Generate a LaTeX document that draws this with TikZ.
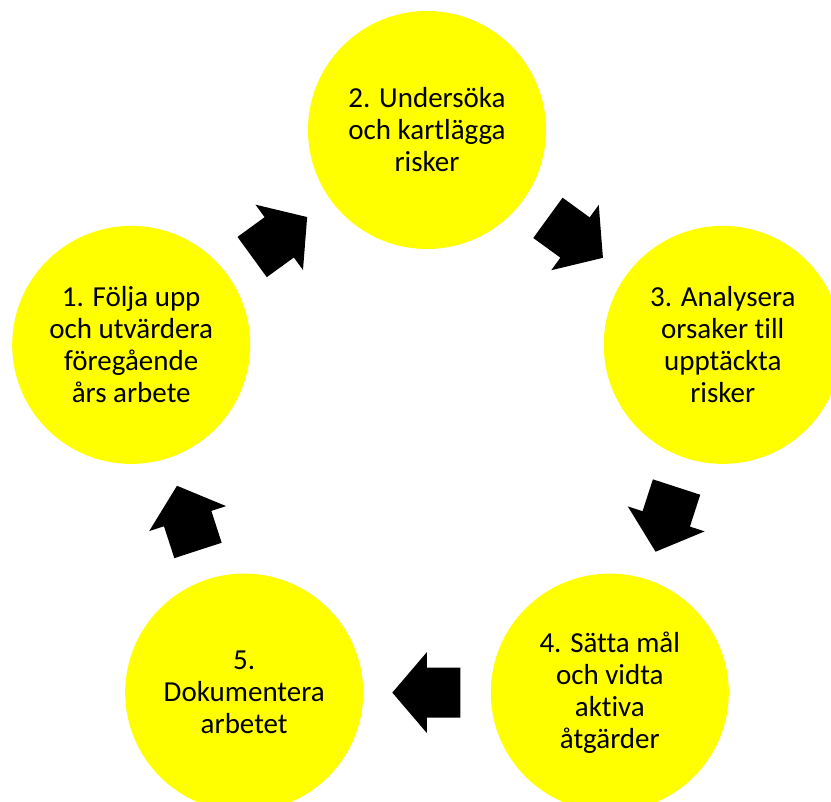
\documentclass[tikz,border=0pt]{standalone}
\usepackage{fontspec}
\setmainfont{Carlito}[Ligatures=NoCommon]
\usepackage{tikz}
\usetikzlibrary{shapes.arrows}
\definecolor{phaseyellow}{RGB}{255,255,0}

\begin{document}
\begin{tikzpicture}[thick,
  phase node/.style={circle,fill=phaseyellow,minimum size=238pt,inner sep=0pt,align=center,
    font=\fontsize{29pt}{32pt}\selectfont},
  flow arrow/.style={single arrow,fill=black,draw=none,inner xsep=0pt,inner ysep=24.5pt,
    minimum height=68pt,single arrow head extend=15.5pt,single arrow tip angle=99,
    anchor=tail,pos=0.234,sloped,allow upside down}]

  \useasboundingbox (-427pt,-361pt) rectangle (404pt,441pt);

  \node[phase node] (1) at (162:311pt) {1. Följa upp\\och utvärdera\\föregående\\års arbete};
  \node[phase node] (2) at (90:311pt) {2. Undersöka\\och kartlägga\\risker};
  \node[phase node] (3) at (18:311pt) {3. Analysera\\orsaker till\\upptäckta\\risker};
  \node[phase node] (4) at (-54:311pt) {4. Sätta mål\\och vidta\\aktiva\\åtgärder};
  \node[phase node] (5) at (-126:311pt) {5.\\Dokumentera\\arbetet};

  \path
    (1) -- node[flow arrow] {} (2)
    (2) -- node[flow arrow] {} (3)
    (3) -- node[flow arrow] {} (4)
    (4) -- node[flow arrow] {} (5)
    (5) -- node[flow arrow] {} (1);
\end{tikzpicture}
\end{document}
